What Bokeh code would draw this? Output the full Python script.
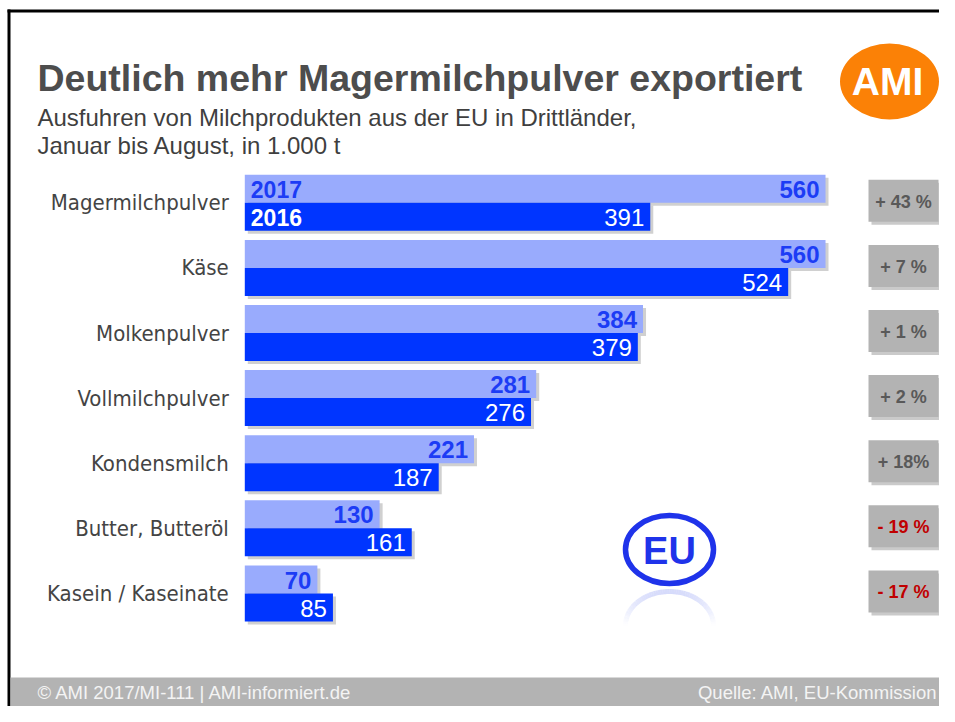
import numpy as np
from bokeh.plotting import figure
from bokeh.models import Range1d
from bokeh.core.properties import value
from bokeh.embed import file_html
from bokeh.resources import INLINE

# ---------------- data ----------------
categories = ["Magermilchpulver", "Käse", "Molkenpulver", "Vollmilchpulver",
              "Kondensmilch", "Butter, Butteröl", "Kasein / Kaseinate"]
years = ["2017", "2016"]
values_2017 = [560, 560, 384, 281, 221, 130, 70]
values_2016 = [391, 524, 379, 276, 187, 161, 85]
pct_changes = [43, 7, 1, 2, 18, -19, -17]
pct_labels = ["+ 43 %", "+ 7 %", "+ 1 %", "+ 2 %", "+ 18%", "- 19 %", "- 17 %"]

title = "Deutlich mehr Magermilchpulver exportiert"
subtitle = ["Ausfuhren von Milchprodukten aus der EU in Drittländer,",
            "Januar bis August, in 1.000 t"]
footer_left = "© AMI 2017/MI-111 | AMI-informiert.de"
footer_right = "Quelle: AMI, EU-Kommission"

# ---------------- layout ----------------
W, H = 939, 706
PX_PER_UNIT = 1.037      # pixels per 1.000 t
PX_PER_ROW = 65.1        # pixels per category row
BAR_ORIGIN = 244.3       # x of bar origin (px)
ROW0 = 202.3             # y of first row centre (px)
BAR_H = 28 / PX_PER_ROW

x_range = Range1d(-BAR_ORIGIN / PX_PER_UNIT, (W - BAR_ORIGIN) / PX_PER_UNIT)
y_range = Range1d((H - ROW0) / PX_PER_ROW, -ROW0 / PX_PER_ROW)

p = figure(width=W, height=H, x_range=x_range, y_range=y_range,
           output_backend="svg", toolbar_location=None,
           x_axis_location=None, y_axis_location=None, min_border=0)
p.extra_x_ranges = {"px": Range1d(0, W)}
p.extra_y_ranges = {"px": Range1d(H, 0)}
p.grid.visible = False
p.outline_line_color = None
p.background_fill_color = "white"
p.border_fill_color = "white"

FONT = value("Liberation Sans")
NARROW = value("DejaVu Sans Condensed, Roboto")
PX = dict(x_range_name="px", y_range_name="px")

rows = np.arange(len(categories))
C17 = "#99abfd"
C16 = "#0035ff"
TXT17 = "#1c3cf5"

# ---------------- frame & footer ----------------
p.quad(left=[7], right=[W], top=[9], bottom=[12], fill_color="black", line_color=None, **PX)
p.quad(left=[7], right=[10], top=[9], bottom=[H], fill_color="black", line_color=None, **PX)
p.quad(left=[10], right=[W], top=[677], bottom=[H], fill_color="#b3b3b3", line_color=None, **PX)
p.text(x=[37], y=[692], text=[footer_left], text_font=FONT, text_font_size="18.5px",
       text_color="#f4f4f4", text_baseline="middle", **PX)
p.text(x=[937], y=[692], text=[footer_right], text_font=FONT, text_font_size="18.5px",
       text_color="#f4f4f4", text_baseline="middle", text_align="right", **PX)

# ---------------- titles ----------------
p.text(x=[37], y=[77], text=[title], text_font=FONT, text_font_style="bold",
       text_font_size="37.5px", text_color="#4d4d4d", text_baseline="alphabetic", **PX)
p.text(x=[37, 37], y=[117, 145], text=subtitle, text_font=FONT,
       text_font_size="24px", text_color="#3f3f3f", text_baseline="alphabetic", **PX)

# AMI logo
p.ellipse(x=[889], y=[81], width=[99], height=[76], fill_color="#fb8106", line_color=None, **PX)
p.text(x=[887], y=[81], text=["AMI"], text_font=FONT, text_font_style="bold",
       text_font_size="39px", text_color="white", text_align="center", text_baseline="middle", **PX)

# EU logo with faded reflection
cx, cy, rx, ry = 669, 549, 44, 34
mirror = 587
t = np.linspace(np.pi, 2 * np.pi, 61)
xs, ys, als = [], [], []
rcy = 2 * mirror - cy
for a0, a1 in zip(t[:-1], t[1:]):
    seg_t = np.array([a0, a1])
    sx = cx + rx * np.cos(seg_t)
    sy = rcy + ry * np.sin(seg_t)
    depth = (sy.mean() - (rcy - ry)) / 34
    xs.append(list(sx)); ys.append(list(sy)); als.append(max(0.0, 0.35 * (1 - depth)))
p.multi_line(xs=xs, ys=ys, line_color="#8a98f4", line_width=5, line_alpha=als, **PX)
p.ellipse(x=[cx], y=[cy], width=[2 * rx], height=[2 * ry], fill_color="white",
          line_color="#1f33ea", line_width=5.5, **PX)
p.text(x=[cx], y=[cy + 1], text=["EU"], text_font=FONT, text_font_style="bold",
       text_font_size="38px", text_color="#1f33ea", text_align="center", text_baseline="middle", **PX)

# ---------------- bars ----------------
sdx = 3 / PX_PER_UNIT
sdy = 3 / PX_PER_ROW
for vals, yc in ((values_2017, rows - BAR_H / 2), (values_2016, rows + BAR_H / 2)):
    p.hbar(y=yc + sdy, height=BAR_H, left=sdx, right=np.array(vals) + sdx,
           fill_color="#8a8a8a", fill_alpha=0.4, line_color=None)
p.hbar(y=rows - BAR_H / 2, height=BAR_H, left=0, right=values_2017, fill_color=C17, line_color=None)
p.hbar(y=rows + BAR_H / 2, height=BAR_H, left=0, right=values_2016, fill_color=C16, line_color=None)

# value labels
p.text(x=values_2017, y=rows - BAR_H / 2 + 0.01, text=[str(v) for v in values_2017], x_offset=-6,
       text_font=FONT, text_font_style="bold", text_font_size="24px", text_color=TXT17,
       text_align="right", text_baseline="middle")
p.text(x=values_2016, y=rows + BAR_H / 2 + 0.01, text=[str(v) for v in values_2016], x_offset=-6,
       text_font=FONT, text_font_size="24px", text_color="white",
       text_align="right", text_baseline="middle")

# year labels inside first bars
p.text(x=[0, 0], y=[rows[0] - BAR_H / 2 + 0.01, rows[0] + BAR_H / 2 + 0.01], text=years, x_offset=6,
       text_font=FONT, text_font_style="bold", text_font_size="23px",
       text_color=[TXT17, "white"], text_align="left", text_baseline="middle")

# category labels
p.text(x=[0] * len(categories), y=rows, text=categories, x_offset=-16,
       text_font=NARROW, text_font_size="22px", text_color="#444444",
       text_align="right", text_baseline="middle")

# ---------------- percent boxes ----------------
BOX_H = 42 / PX_PER_ROW
p.rect(x=[906] * len(rows), y=rows - 2 / PX_PER_ROW + sdy, width=70, height=BOX_H,
       fill_color="#7a7a7a", fill_alpha=0.4, line_color=None, x_range_name="px")
p.rect(x=[903] * len(rows), y=rows - 2 / PX_PER_ROW, width=70, height=BOX_H,
       fill_color="#b3b3b3", line_color=None, x_range_name="px")
p.text(x=[903] * len(rows), y=rows - 1 / PX_PER_ROW, text=pct_labels,
       text_font=FONT, text_font_style="bold", text_font_size="18px",
       text_color=["#595959" if v > 0 else "#c00000" for v in pct_changes],
       text_align="center", text_baseline="middle", x_range_name="px")

open("out.html", "w").write(file_html(p, INLINE))
